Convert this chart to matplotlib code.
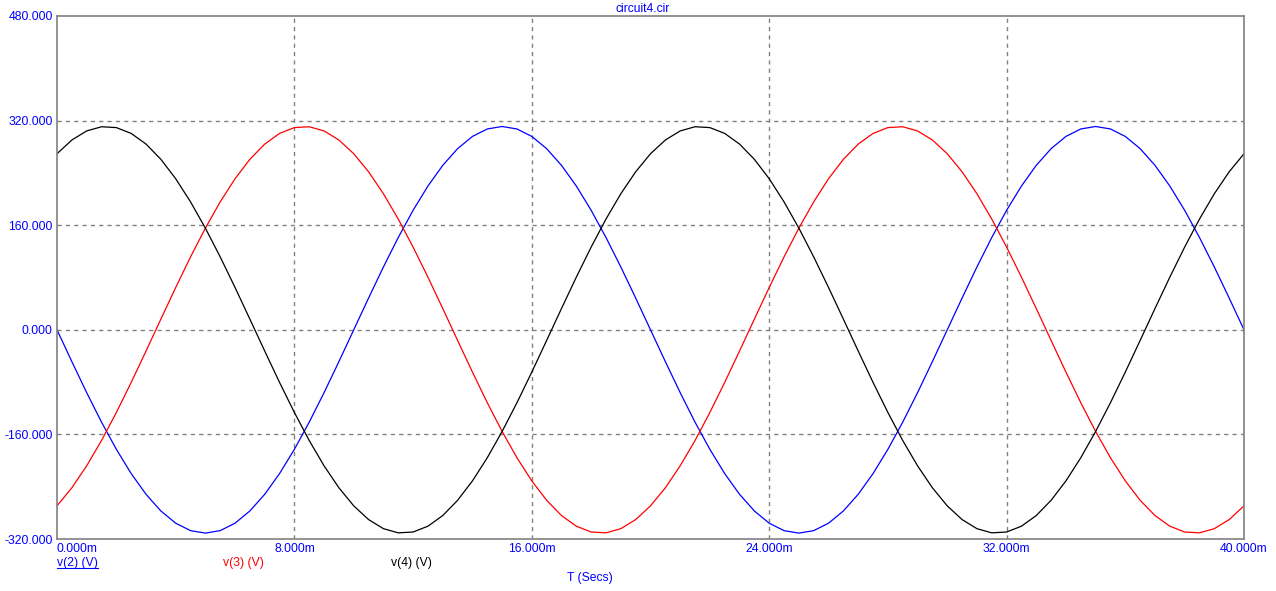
import numpy as np
import matplotlib
matplotlib.use('Agg')
import matplotlib.pyplot as plt
from matplotlib.lines import Line2D

plt.rcParams['font.family'] = ['Liberation Sans', 'DejaVu Sans']

# time axis, 0.5 ms steps (in ms)
t_ms = np.arange(0, 40.5, 0.5)

# v(2) - blue
v2 = [0, -48.6, -96.1, -141.2, -182.8, -219.9, -251.6, -277.1, -295.8, -307.2,
      -311.0, -307.2, -295.8, -277.1, -251.6, -219.9, -182.8, -141.2, -96.1, -48.6,
      0, 48.6, 96.1, 141.2, 182.8, 219.9, 251.6, 277.1, 295.8, 307.2,
      311.0, 307.2, 295.8, 277.1, 251.6, 219.9, 182.8, 141.2, 96.1, 48.6,
      0, -48.6, -96.1, -141.2, -182.8, -219.9, -251.6, -277.1, -295.8, -307.2,
      -311.0, -307.2, -295.8, -277.1, -251.6, -219.9, -182.8, -141.2, -96.1, -48.6,
      0, 48.6, 96.1, 141.2, 182.8, 219.9, 251.6, 277.1, 295.8, 307.2,
      311.0, 307.2, 295.8, 277.1, 251.6, 219.9, 182.8, 141.2, 96.1, 48.6,
      0]

# v(3) - red
v3 = [-269.3, -241.7, -208.1, -169.4, -126.5, -80.5, -32.5, 16.3, 64.7, 111.5,
      155.5, 195.7, 231.1, 260.8, 284.1, 300.4, 309.3, 310.6, 304.2, 290.3,
      269.3, 241.7, 208.1, 169.4, 126.5, 80.5, 32.5, -16.3, -64.7, -111.5,
      -155.5, -195.7, -231.1, -260.8, -284.1, -300.4, -309.3, -310.6, -304.2, -290.3,
      -269.3, -241.7, -208.1, -169.4, -126.5, -80.5, -32.5, 16.3, 64.7, 111.5,
      155.5, 195.7, 231.1, 260.8, 284.1, 300.4, 309.3, 310.6, 304.2, 290.3,
      269.3, 241.7, 208.1, 169.4, 126.5, 80.5, 32.5, -16.3, -64.7, -111.5,
      -155.5, -195.7, -231.1, -260.8, -284.1, -300.4, -309.3, -310.6, -304.2, -290.3,
      -269.3]

# v(4) - black
v4 = [269.3, 290.3, 304.2, 310.6, 309.3, 300.4, 284.1, 260.8, 231.1, 195.7,
      155.5, 111.5, 64.7, 16.3, -32.5, -80.5, -126.5, -169.4, -208.1, -241.7,
      -269.3, -290.3, -304.2, -310.6, -309.3, -300.4, -284.1, -260.8, -231.1, -195.7,
      -155.5, -111.5, -64.7, -16.3, 32.5, 80.5, 126.5, 169.4, 208.1, 241.7,
      269.3, 290.3, 304.2, 310.6, 309.3, 300.4, 284.1, 260.8, 231.1, 195.7,
      155.5, 111.5, 64.7, 16.3, -32.5, -80.5, -126.5, -169.4, -208.1, -241.7,
      -269.3, -290.3, -304.2, -310.6, -309.3, -300.4, -284.1, -260.8, -231.1, -195.7,
      -155.5, -111.5, -64.7, -16.3, 32.5, 80.5, 126.5, 169.4, 208.1, 241.7,
      269.3]

x_ticks = [0, 8, 16, 24, 32, 40]
x_labels = ['0.000m', '8.000m', '16.000m', '24.000m', '32.000m', '40.000m']
y_ticks = [-320, -160, 0, 160, 320, 480]
y_labels = ['-320.000', '-160.000', '0.000', '160.000', '320.000', '480.000']

W, H = 1276, 591
fig = plt.figure(figsize=(W / 100, H / 100), dpi=100)
ax = fig.add_axes([57 / W, 1 - 539 / H, (1244 - 57) / W, (539 - 16) / H])

ax.plot(t_ms, v2, color='#0000ff', lw=0.9)
ax.plot(t_ms, v3, color='#ff0000', lw=0.9)
ax.plot(t_ms, v4, color='#000000', lw=0.9)

ax.set_xlim(0, 40)
ax.set_ylim(-320, 480)
ax.set_xticks(x_ticks)
ax.set_yticks(y_ticks)
ax.set_xticklabels(x_labels)
ax.set_yticklabels(y_labels)
ax.tick_params(length=0, labelsize=8.7, labelcolor='#0000ff')
ax.tick_params(axis='x', pad=3)
ax.tick_params(axis='y', pad=3)
ax.get_xticklabels()[0].set_ha('left')

for s in ax.spines.values():
    s.set_color('#808080')
    s.set_linewidth(1.2)

for x in x_ticks[1:-1]:
    ax.axvline(x, color='#808080', lw=1, ls=(0, (3, 3)), zorder=0)
for y in y_ticks[1:-1]:
    ax.axhline(y, color='#808080', lw=1, ls=(0, (3, 3)), zorder=0)

fig.text(643 / W, 1 - 9 / H, 'circuit4.cir', color='#0000ff', fontsize=8.7,
         ha='center', va='center')
fig.text(590 / W, 1 - 578 / H, 'T (Secs)', color='#0000ff', fontsize=8.7,
         ha='center', va='center')

leg = fig.text(57 / W, 1 - 563 / H, 'v(2) (V)', color='#0000ff', fontsize=8.7,
               ha='left', va='center')
fig.text(223 / W, 1 - 563 / H, 'v(3) (V)', color='#ff0000', fontsize=8.7,
         ha='left', va='center')
fig.text(391 / W, 1 - 563 / H, 'v(4) (V)', color='#000000', fontsize=8.7,
         ha='left', va='center')

# underline the first trace label
fig.canvas.draw()
bb = leg.get_window_extent().transformed(fig.transFigure.inverted())
fig.add_artist(Line2D([bb.x0, bb.x1], [bb.y0 + 1 / H, bb.y0 + 1 / H],
                      color='#0000ff', lw=0.8, transform=fig.transFigure))

fig.savefig('out.png', dpi=100)
